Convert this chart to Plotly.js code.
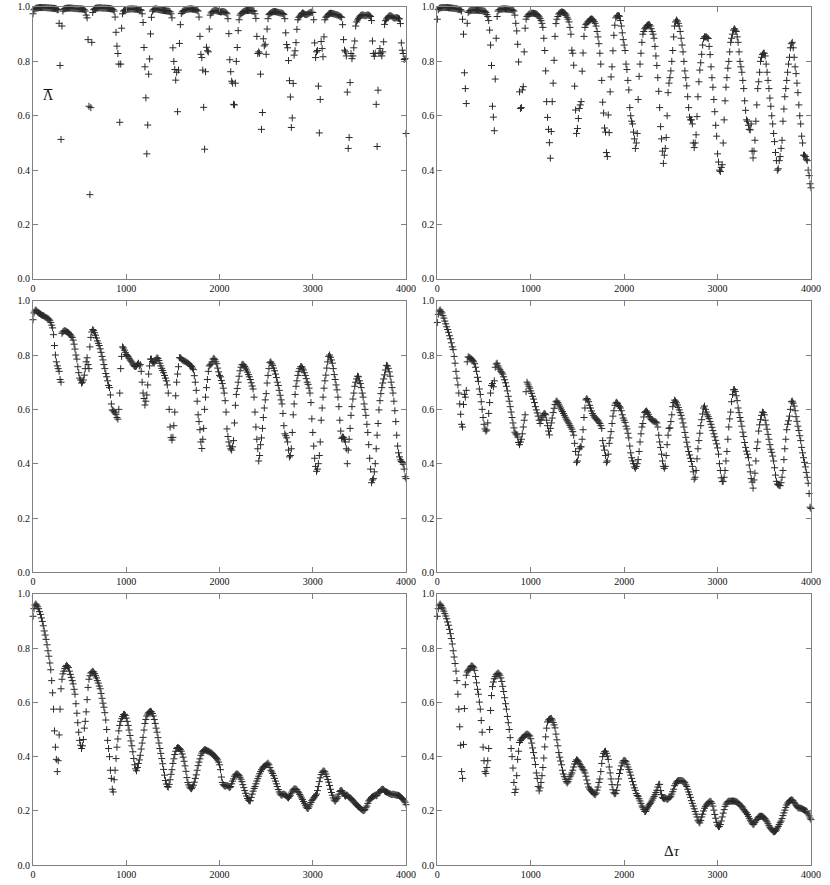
<!DOCTYPE html>
<html>
<head>
<meta charset="utf-8">
<script src="https://cdn.plot.ly/plotly-3.0.1.min.js"></script>
<style>
  html, body { margin: 0; padding: 0; background: #fff; }
  #plot-div { width: 830px; height: 885px; }
</style>
</head>
<body>
<div id="plot-div"></div>
<script>
  // delta tau is sampled every 10 units, 0..4000
  var step = 10;
  var xTickVals = [0, 1000, 2000, 3000, 4000];
  var yTickVals = [0, 0.2, 0.4, 0.6, 0.8, 1.0];
  var yTickText = ["0.0", "0.2", "0.4", "0.6", "0.8", "1.0"];

  // top-left
  var lambdaA = [
    0.975, 0.99, 0.993, 0.995, 0.996, 0.997, 0.997, 0.998, 0.998, 0.998,
    0.998, 0.998, 0.998, 0.998, 0.998, 0.997, 0.997, 0.997, 0.996, 0.996,
    0.996, 0.995, 0.995, 0.995, 0.994, 0.993, 0.99, 0.99, 0.94, 0.785,
    0.513, 0.93, 0.985, 0.992, 0.994, 0.995, 0.995, 0.996, 0.996, 0.996,
    0.996, 0.996, 0.995, 0.995, 0.995, 0.994, 0.994, 0.994, 0.994, 0.993,
    0.993, 0.993, 0.993, 0.992, 0.992, 0.99, 0.985, 0.97, 0.96, 0.88,
    0.635, 0.31, 0.63, 0.87, 0.98, 0.99, 0.993, 0.995, 0.996, 0.996,
    0.997, 0.997, 0.997, 0.997, 0.996, 0.996, 0.996, 0.996, 0.996, 0.995,
    0.995, 0.995, 0.994, 0.994, 0.993, 0.992, 0.99, 0.985, 0.963, 0.907,
    0.856, 0.829, 0.79, 0.576, 0.79, 0.922, 0.975, 0.985, 0.988, 0.99,
    0.99, 0.991, 0.992, 0.992, 0.993, 0.993, 0.993, 0.993, 0.993, 0.992,
    0.992, 0.992, 0.991, 0.991, 0.99, 0.99, 0.988, 0.975, 0.943, 0.851,
    0.78, 0.666, 0.46, 0.566, 0.753, 0.809, 0.901, 0.962, 0.985, 0.99,
    0.992, 0.993, 0.993, 0.992, 0.991, 0.99, 0.99, 0.989, 0.988, 0.988,
    0.987, 0.987, 0.986, 0.986, 0.985, 0.985, 0.984, 0.982, 0.975, 0.96,
    0.85, 0.80, 0.77, 0.731, 0.76, 0.615, 0.768, 0.866, 0.935, 0.976,
    0.982, 0.985, 0.987, 0.989, 0.99, 0.991, 0.992, 0.992, 0.993, 0.993,
    0.993, 0.992, 0.992, 0.991, 0.99, 0.99, 0.988, 0.985, 0.963, 0.892,
    0.826, 0.814, 0.768, 0.631, 0.477, 0.762, 0.852, 0.839, 0.835, 0.919,
    0.97, 0.978, 0.982, 0.984, 0.986, 0.987, 0.987, 0.986, 0.985, 0.984,
    0.983, 0.982, 0.982, 0.983, 0.983, 0.982, 0.981, 0.979, 0.975, 0.957,
    0.902, 0.806, 0.762, 0.727, 0.72, 0.642, 0.64, 0.72, 0.80, 0.851,
    0.913, 0.953, 0.97, 0.975, 0.978, 0.981, 0.983, 0.985, 0.986, 0.987,
    0.987, 0.987, 0.988, 0.988, 0.987, 0.987, 0.986, 0.985, 0.975, 0.958,
    0.892, 0.829, 0.835, 0.83, 0.753, 0.55, 0.612, 0.883, 0.857, 0.863,
    0.826, 0.919, 0.957, 0.972, 0.976, 0.978, 0.98, 0.982, 0.983, 0.983,
    0.983, 0.982, 0.981, 0.98, 0.979, 0.978, 0.978, 0.977, 0.976, 0.972,
    0.957, 0.905, 0.862, 0.85, 0.803, 0.729, 0.669, 0.557, 0.592, 0.719,
    0.823, 0.839, 0.869, 0.918, 0.953, 0.962, 0.966, 0.97, 0.975, 0.978,
    0.977, 0.974, 0.972, 0.972, 0.973, 0.975, 0.977, 0.979, 0.98, 0.981,
    0.98, 0.953, 0.868, 0.814, 0.835, 0.84, 0.709, 0.537, 0.66, 0.873,
    0.847, 0.817, 0.89, 0.953, 0.962, 0.966, 0.97, 0.974, 0.976, 0.977,
    0.977, 0.976, 0.975, 0.974, 0.973, 0.972, 0.971, 0.97, 0.968, 0.966,
    0.964, 0.962, 0.935, 0.88, 0.841, 0.835, 0.82, 0.687, 0.48, 0.52,
    0.722, 0.829, 0.81, 0.82, 0.85, 0.875, 0.93, 0.945, 0.952, 0.958,
    0.963, 0.967, 0.97, 0.971, 0.97, 0.969, 0.968, 0.968, 0.97, 0.971,
    0.97, 0.968, 0.965, 0.95, 0.875, 0.829, 0.819, 0.83, 0.642, 0.487,
    0.694, 0.83, 0.847, 0.83, 0.82, 0.835, 0.872, 0.936, 0.95, 0.956,
    0.96, 0.964, 0.967, 0.968, 0.967, 0.965, 0.962, 0.96, 0.959, 0.96,
    0.961, 0.96, 0.958, 0.956, 0.939, 0.868, 0.841, 0.829, 0.807, 0.81,
    0.535
  ];

  // top-right
  var lambdaB = [
    0.955, 0.99, 0.995, 0.997, 0.997, 0.998, 0.998, 0.998, 0.998, 0.998,
    0.998, 0.998, 0.997, 0.997, 0.997, 0.996, 0.996, 0.995, 0.995, 0.994,
    0.994, 0.993, 0.992, 0.991, 0.99, 0.99, 0.985, 0.955, 0.90, 0.758,
    0.70, 0.645, 0.94, 0.98, 0.985, 0.986, 0.987, 0.988, 0.988, 0.988,
    0.988, 0.988, 0.988, 0.988, 0.988, 0.987, 0.987, 0.987, 0.986, 0.986,
    0.985, 0.984, 0.98, 0.972, 0.965, 0.95, 0.915, 0.86, 0.785, 0.635,
    0.595, 0.545, 0.735, 0.885, 0.965, 0.985, 0.99, 0.991, 0.992, 0.992,
    0.993, 0.993, 0.993, 0.993, 0.992, 0.992, 0.992, 0.991, 0.991, 0.99,
    0.99, 0.988, 0.985, 0.97, 0.94, 0.912, 0.863, 0.798, 0.688, 0.627,
    0.63, 0.695, 0.707, 0.835, 0.922, 0.955, 0.965, 0.97, 0.973, 0.975,
    0.976, 0.977, 0.977, 0.977, 0.976, 0.975, 0.974, 0.972, 0.968, 0.964,
    0.958, 0.95, 0.94, 0.925, 0.885, 0.84, 0.765, 0.652, 0.594, 0.55,
    0.501, 0.444, 0.542, 0.652, 0.72, 0.804, 0.892, 0.939, 0.955, 0.965,
    0.974, 0.978, 0.98, 0.982, 0.981, 0.98, 0.978, 0.975, 0.97, 0.962,
    0.955, 0.945, 0.925, 0.90, 0.841, 0.83, 0.786, 0.709, 0.621, 0.535,
    0.553, 0.59, 0.627, 0.64, 0.652, 0.764, 0.831, 0.892, 0.925, 0.935,
    0.94, 0.945, 0.948, 0.952, 0.955, 0.956, 0.955, 0.952, 0.947, 0.94,
    0.93, 0.91, 0.89, 0.865, 0.83, 0.79, 0.73, 0.65, 0.61, 0.555,
    0.54, 0.465, 0.45, 0.603, 0.538, 0.688, 0.743, 0.78, 0.839, 0.896,
    0.933, 0.96, 0.966, 0.968, 0.968, 0.966, 0.95, 0.93, 0.905, 0.88,
    0.86, 0.84, 0.79, 0.77, 0.73, 0.695, 0.63, 0.60, 0.58, 0.57,
    0.54, 0.515, 0.48, 0.50, 0.535, 0.66, 0.745, 0.79, 0.83, 0.87,
    0.90, 0.91, 0.92, 0.925, 0.93, 0.933, 0.935, 0.935, 0.93, 0.92,
    0.91, 0.90, 0.885, 0.855, 0.82, 0.785, 0.74, 0.69, 0.63, 0.56,
    0.515, 0.47, 0.425, 0.455, 0.48, 0.52, 0.60, 0.685, 0.72, 0.74,
    0.765, 0.80, 0.84, 0.89, 0.93, 0.945, 0.952, 0.948, 0.94, 0.93,
    0.91, 0.885, 0.86, 0.835, 0.80, 0.765, 0.74, 0.71, 0.67, 0.63,
    0.595, 0.585, 0.585, 0.57, 0.50, 0.483, 0.50, 0.53, 0.597, 0.67,
    0.725, 0.768, 0.795, 0.826, 0.86, 0.884, 0.89, 0.89, 0.89, 0.887,
    0.884, 0.855, 0.825, 0.78, 0.74, 0.705, 0.66, 0.615, 0.565, 0.525,
    0.46, 0.43, 0.40, 0.395, 0.41, 0.42, 0.50, 0.585, 0.655, 0.705,
    0.74, 0.775, 0.80, 0.835, 0.87, 0.885, 0.90, 0.915, 0.92, 0.915,
    0.91, 0.89, 0.87, 0.835, 0.80, 0.78, 0.76, 0.73, 0.70, 0.655,
    0.62, 0.585, 0.58, 0.565, 0.55, 0.548, 0.57, 0.47, 0.445, 0.47,
    0.51, 0.58, 0.64, 0.70, 0.725, 0.76, 0.80, 0.815, 0.825, 0.83,
    0.83, 0.82, 0.79, 0.76, 0.73, 0.70, 0.665, 0.635, 0.60, 0.57,
    0.535, 0.505, 0.465, 0.435, 0.40, 0.405, 0.435, 0.45, 0.48, 0.51,
    0.58, 0.625, 0.67, 0.70, 0.73, 0.76, 0.79, 0.815, 0.85, 0.865,
    0.87, 0.85, 0.815, 0.78, 0.755, 0.72, 0.685, 0.64, 0.60, 0.57,
    0.525, 0.50, 0.455, 0.455, 0.45, 0.44, 0.435, 0.40, 0.38, 0.35,
    0.335
  ];

  // middle-left
  var lambdaC = [
    0.93, 0.955, 0.962, 0.966, 0.962, 0.958, 0.955, 0.953, 0.951, 0.948,
    0.946, 0.945, 0.943, 0.94, 0.938, 0.936, 0.934, 0.932, 0.928, 0.92,
    0.91, 0.90, 0.875, 0.835, 0.80, 0.775, 0.76, 0.75, 0.74, 0.71,
    0.70, 0.88, 0.885, 0.888, 0.89, 0.888, 0.886, 0.884, 0.882, 0.878,
    0.875, 0.87, 0.865, 0.855, 0.84, 0.822, 0.80, 0.785, 0.757, 0.735,
    0.715, 0.708, 0.697, 0.70, 0.708, 0.726, 0.75, 0.775, 0.79, 0.765,
    0.75, 0.83, 0.865, 0.885, 0.894, 0.89, 0.882, 0.873, 0.863, 0.852,
    0.843, 0.835, 0.823, 0.81, 0.795, 0.782, 0.765, 0.75, 0.732, 0.72,
    0.705, 0.688, 0.68, 0.653, 0.62, 0.598, 0.595, 0.591, 0.587, 0.582,
    0.57, 0.564, 0.60, 0.66, 0.75, 0.795, 0.83, 0.826, 0.818, 0.81,
    0.802, 0.798, 0.794, 0.788, 0.782, 0.778, 0.774, 0.767, 0.762, 0.758,
    0.758, 0.76, 0.766, 0.77, 0.76, 0.765, 0.74, 0.70, 0.66, 0.64,
    0.616, 0.63, 0.653, 0.69, 0.73, 0.76, 0.785, 0.785, 0.776, 0.772,
    0.77, 0.778, 0.785, 0.79, 0.787, 0.78, 0.77, 0.76, 0.751, 0.743,
    0.735, 0.725, 0.715, 0.705, 0.69, 0.66, 0.60, 0.535, 0.496, 0.487,
    0.497, 0.54, 0.59, 0.65, 0.70, 0.73, 0.757, 0.79, 0.79, 0.786,
    0.782, 0.78, 0.778, 0.777, 0.775, 0.773, 0.77, 0.768, 0.764, 0.761,
    0.758, 0.752, 0.746, 0.724, 0.70, 0.67, 0.63, 0.58, 0.555, 0.525,
    0.48, 0.456, 0.49, 0.53, 0.60, 0.645, 0.68, 0.71, 0.74, 0.76,
    0.764, 0.767, 0.775, 0.785, 0.788, 0.783, 0.775, 0.768, 0.752, 0.738,
    0.725, 0.72, 0.706, 0.695, 0.678, 0.66, 0.632, 0.59, 0.528, 0.50,
    0.48, 0.465, 0.455, 0.45, 0.462, 0.485, 0.55, 0.615, 0.655, 0.677,
    0.70, 0.722, 0.742, 0.755, 0.764, 0.766, 0.763, 0.758, 0.752, 0.745,
    0.737, 0.728, 0.72, 0.71, 0.698, 0.686, 0.675, 0.645, 0.59, 0.535,
    0.49, 0.455, 0.41, 0.43, 0.47, 0.495, 0.53, 0.57, 0.605, 0.635,
    0.658, 0.697, 0.725, 0.75, 0.772, 0.775, 0.768, 0.762, 0.752, 0.742,
    0.73, 0.717, 0.70, 0.688, 0.67, 0.652, 0.635, 0.62, 0.585, 0.54,
    0.51, 0.503, 0.495, 0.48, 0.45, 0.425, 0.43, 0.455, 0.515, 0.58,
    0.62, 0.655, 0.685, 0.705, 0.725, 0.74, 0.75, 0.757, 0.757, 0.752,
    0.745, 0.735, 0.725, 0.713, 0.70, 0.692, 0.678, 0.66, 0.625, 0.565,
    0.515, 0.465, 0.42, 0.39, 0.372, 0.38, 0.40, 0.43, 0.48, 0.56,
    0.605, 0.645, 0.678, 0.705, 0.726, 0.752, 0.775, 0.795, 0.80, 0.792,
    0.782, 0.77, 0.75, 0.728, 0.71, 0.69, 0.672, 0.645, 0.61, 0.56,
    0.52, 0.493, 0.498, 0.497, 0.49, 0.48, 0.455, 0.40, 0.45, 0.49,
    0.53, 0.578, 0.61, 0.638, 0.66, 0.685, 0.70, 0.712, 0.722, 0.72,
    0.705, 0.695, 0.68, 0.66, 0.645, 0.62, 0.60, 0.578, 0.545, 0.515,
    0.47, 0.42, 0.38, 0.33, 0.34, 0.345, 0.37, 0.40, 0.455, 0.505,
    0.548, 0.598, 0.632, 0.658, 0.68, 0.697, 0.712, 0.727, 0.745, 0.762,
    0.76, 0.751, 0.738, 0.722, 0.70, 0.68, 0.66, 0.63, 0.595, 0.555,
    0.505, 0.465, 0.44, 0.425, 0.414, 0.408, 0.405, 0.398, 0.38, 0.352,
    0.345
  ];

  // middle-right
  var lambdaD = [
    0.92, 0.95, 0.962, 0.966, 0.96, 0.955, 0.945, 0.936, 0.925, 0.915,
    0.904, 0.894, 0.884, 0.871, 0.86, 0.845, 0.83, 0.82, 0.795, 0.77,
    0.74, 0.715, 0.69, 0.66, 0.62, 0.582, 0.545, 0.535, 0.618, 0.655,
    0.645, 0.67, 0.775, 0.793, 0.792, 0.79, 0.787, 0.784, 0.78, 0.775,
    0.768, 0.755, 0.74, 0.718, 0.703, 0.675, 0.655, 0.628, 0.60, 0.57,
    0.545, 0.528, 0.52, 0.524, 0.55, 0.585, 0.625, 0.66, 0.688, 0.695,
    0.683, 0.705, 0.755, 0.767, 0.77, 0.76, 0.752, 0.746, 0.74, 0.735,
    0.73, 0.72, 0.709, 0.698, 0.685, 0.668, 0.648, 0.63, 0.61, 0.59,
    0.57, 0.55, 0.532, 0.516, 0.51, 0.506, 0.498, 0.478, 0.47, 0.48,
    0.49, 0.51, 0.535, 0.56, 0.58, 0.665, 0.70, 0.693, 0.685, 0.678,
    0.668, 0.659, 0.648, 0.638, 0.625, 0.61, 0.598, 0.587, 0.575, 0.56,
    0.548, 0.562, 0.569, 0.578, 0.583, 0.585, 0.58, 0.56, 0.54, 0.52,
    0.506, 0.53, 0.55, 0.568, 0.588, 0.604, 0.618, 0.628, 0.631, 0.625,
    0.619, 0.612, 0.605, 0.598, 0.592, 0.585, 0.578, 0.571, 0.564, 0.558,
    0.553, 0.547, 0.54, 0.534, 0.527, 0.518, 0.505, 0.475, 0.445, 0.405,
    0.41, 0.432, 0.455, 0.462, 0.462, 0.49, 0.525, 0.57, 0.605, 0.635,
    0.64, 0.635, 0.628, 0.615, 0.605, 0.594, 0.585, 0.578, 0.572, 0.568,
    0.565, 0.562, 0.558, 0.553, 0.548, 0.54, 0.53, 0.485, 0.465, 0.45,
    0.43, 0.405, 0.41, 0.435, 0.475, 0.495, 0.518, 0.548, 0.575, 0.595,
    0.615, 0.623, 0.626, 0.622, 0.615, 0.61, 0.605, 0.595, 0.58, 0.568,
    0.56, 0.552, 0.538, 0.528, 0.512, 0.495, 0.465, 0.44, 0.422, 0.41,
    0.40, 0.388, 0.383, 0.39, 0.40, 0.415, 0.445, 0.48, 0.51, 0.535,
    0.548, 0.572, 0.588, 0.592, 0.594, 0.589, 0.582, 0.574, 0.568, 0.563,
    0.56, 0.557, 0.556, 0.555, 0.553, 0.55, 0.535, 0.505, 0.48, 0.46,
    0.435, 0.41, 0.39, 0.383, 0.39, 0.43, 0.47, 0.505, 0.53, 0.532,
    0.555, 0.58, 0.61, 0.625, 0.634, 0.63, 0.624, 0.616, 0.607, 0.598,
    0.588, 0.578, 0.565, 0.55, 0.535, 0.515, 0.497, 0.479, 0.462, 0.445,
    0.432, 0.42, 0.408, 0.39, 0.37, 0.343, 0.35, 0.375, 0.418, 0.455,
    0.485, 0.512, 0.54, 0.562, 0.583, 0.605, 0.612, 0.60, 0.59, 0.58,
    0.573, 0.566, 0.555, 0.545, 0.534, 0.522, 0.51, 0.499, 0.486, 0.473,
    0.458, 0.435, 0.40, 0.375, 0.348, 0.334, 0.335, 0.35, 0.375, 0.41,
    0.445, 0.49, 0.535, 0.565, 0.59, 0.628, 0.655, 0.672, 0.673, 0.666,
    0.65, 0.632, 0.605, 0.588, 0.57, 0.556, 0.538, 0.516, 0.50, 0.478,
    0.46, 0.446, 0.435, 0.422, 0.395, 0.37, 0.345, 0.332, 0.31, 0.34,
    0.365, 0.41, 0.456, 0.48, 0.52, 0.543, 0.562, 0.578, 0.59, 0.588,
    0.58, 0.56, 0.543, 0.527, 0.508, 0.49, 0.47, 0.453, 0.442, 0.428,
    0.41, 0.385, 0.358, 0.335, 0.325, 0.322, 0.32, 0.319, 0.33, 0.35,
    0.375, 0.415, 0.455, 0.49, 0.525, 0.545, 0.558, 0.575, 0.60, 0.628,
    0.63, 0.623, 0.612, 0.595, 0.573, 0.556, 0.538, 0.522, 0.503, 0.485,
    0.46, 0.44, 0.422, 0.405, 0.388, 0.368, 0.35, 0.328, 0.29, 0.24,
    0.235
  ];

  // bottom-left
  var lambdaE = [
    0.917, 0.945, 0.958, 0.962, 0.958, 0.952, 0.945, 0.934, 0.924, 0.911,
    0.898, 0.882, 0.863, 0.848, 0.832, 0.812, 0.79, 0.77, 0.745, 0.72,
    0.68, 0.635, 0.575, 0.495, 0.435, 0.39, 0.345, 0.385, 0.48, 0.575,
    0.65, 0.685, 0.705, 0.715, 0.725, 0.732, 0.736, 0.733, 0.728, 0.715,
    0.703, 0.692, 0.68, 0.668, 0.648, 0.63, 0.595, 0.56, 0.525, 0.49,
    0.46, 0.442, 0.43, 0.44, 0.463, 0.505, 0.53, 0.565, 0.61, 0.655,
    0.685, 0.698, 0.708, 0.711, 0.714, 0.712, 0.706, 0.698, 0.69, 0.68,
    0.671, 0.66, 0.65, 0.633, 0.615, 0.597, 0.582, 0.562, 0.535, 0.50,
    0.46, 0.43, 0.40, 0.35, 0.32, 0.28, 0.27, 0.315, 0.35, 0.393,
    0.435, 0.465, 0.495, 0.515, 0.53, 0.54, 0.548, 0.555, 0.556, 0.552,
    0.542, 0.53, 0.515, 0.498, 0.478, 0.458, 0.44, 0.418, 0.393, 0.37,
    0.355, 0.348, 0.36, 0.375, 0.388, 0.405, 0.428, 0.45, 0.471, 0.498,
    0.522, 0.537, 0.55, 0.557, 0.562, 0.565, 0.567, 0.565, 0.559, 0.55,
    0.537, 0.522, 0.505, 0.49, 0.47, 0.45, 0.43, 0.412, 0.393, 0.374,
    0.353, 0.332, 0.312, 0.299, 0.29, 0.288, 0.298, 0.315, 0.335, 0.352,
    0.375, 0.392, 0.408, 0.42, 0.43, 0.434, 0.432, 0.43, 0.426, 0.42,
    0.41, 0.398, 0.383, 0.366, 0.346, 0.323, 0.305, 0.296, 0.288, 0.284,
    0.282, 0.288, 0.295, 0.306, 0.32, 0.333, 0.35, 0.367, 0.38, 0.392,
    0.405, 0.413, 0.419, 0.423, 0.426, 0.425, 0.423, 0.421, 0.42, 0.418,
    0.416, 0.414, 0.412, 0.408, 0.404, 0.40, 0.397, 0.393, 0.388, 0.38,
    0.37, 0.352, 0.325, 0.305, 0.297, 0.293, 0.291, 0.293, 0.294, 0.292,
    0.289, 0.286, 0.29, 0.30, 0.31, 0.318, 0.328, 0.333, 0.336, 0.336,
    0.334, 0.33, 0.324, 0.317, 0.308, 0.297, 0.286, 0.275, 0.265, 0.255,
    0.246, 0.24, 0.237, 0.238, 0.25, 0.262, 0.273, 0.283, 0.29, 0.30,
    0.31, 0.319, 0.328, 0.337, 0.345, 0.352, 0.358, 0.362, 0.364, 0.367,
    0.37, 0.373, 0.376, 0.37, 0.36, 0.35, 0.344, 0.338, 0.33, 0.32,
    0.31, 0.30, 0.29, 0.279, 0.27, 0.263, 0.259, 0.258, 0.262, 0.262,
    0.26, 0.258, 0.254, 0.25, 0.248, 0.253, 0.258, 0.266, 0.273, 0.278,
    0.281, 0.281, 0.28, 0.278, 0.272, 0.267, 0.261, 0.255, 0.248, 0.242,
    0.235, 0.228, 0.221, 0.214, 0.21, 0.209, 0.215, 0.223, 0.231, 0.238,
    0.243, 0.248, 0.252, 0.257, 0.262, 0.275, 0.29, 0.308, 0.322, 0.334,
    0.342, 0.347, 0.347, 0.344, 0.336, 0.327, 0.316, 0.306, 0.294, 0.28,
    0.268, 0.258, 0.248, 0.24, 0.236, 0.241, 0.246, 0.252, 0.262, 0.272,
    0.275, 0.275, 0.27, 0.265, 0.258, 0.254, 0.258, 0.258, 0.254, 0.25,
    0.248, 0.246, 0.242, 0.238, 0.233, 0.23, 0.226, 0.223, 0.219, 0.216,
    0.213, 0.21, 0.206, 0.204, 0.201, 0.202, 0.205, 0.212, 0.218, 0.228,
    0.237, 0.241, 0.245, 0.25, 0.252, 0.254, 0.256, 0.258, 0.256, 0.258,
    0.265, 0.269, 0.272, 0.276, 0.279, 0.28, 0.279, 0.274, 0.271, 0.27,
    0.268, 0.266, 0.264, 0.263, 0.261, 0.26, 0.262, 0.261, 0.26, 0.259,
    0.258, 0.258, 0.257, 0.255, 0.252, 0.249, 0.246, 0.242, 0.237, 0.232,
    0.223
  ];

  // bottom-right
  var lambdaF = [
    0.917, 0.945, 0.958, 0.962, 0.957, 0.95, 0.944, 0.936, 0.927, 0.918,
    0.908, 0.896, 0.884, 0.869, 0.853, 0.835, 0.815, 0.79, 0.767, 0.743,
    0.715, 0.68, 0.63, 0.575, 0.51, 0.442, 0.345, 0.32, 0.445, 0.577,
    0.665, 0.70, 0.712, 0.717, 0.722, 0.726, 0.732, 0.735, 0.732, 0.727,
    0.718, 0.695, 0.672, 0.648, 0.63, 0.601, 0.575, 0.533, 0.49, 0.435,
    0.385, 0.345, 0.338, 0.36, 0.385, 0.43, 0.50, 0.57, 0.625, 0.658,
    0.675, 0.687, 0.695, 0.702, 0.705, 0.708, 0.705, 0.70, 0.69, 0.677,
    0.659, 0.64, 0.617, 0.595, 0.575, 0.548, 0.525, 0.50, 0.47, 0.43,
    0.40, 0.358, 0.305, 0.268, 0.28, 0.33, 0.39, 0.42, 0.452, 0.46,
    0.465, 0.469, 0.471, 0.475, 0.479, 0.482, 0.483, 0.482, 0.479, 0.476,
    0.466, 0.45, 0.432, 0.415, 0.395, 0.371, 0.34, 0.32, 0.29, 0.274,
    0.285, 0.305, 0.33, 0.36, 0.395, 0.436, 0.473, 0.505, 0.528, 0.535,
    0.538, 0.54, 0.541, 0.535, 0.526, 0.517, 0.506, 0.483, 0.462, 0.44,
    0.415, 0.398, 0.384, 0.37, 0.35, 0.336, 0.326, 0.317, 0.308, 0.303,
    0.308, 0.317, 0.326, 0.333, 0.34, 0.35, 0.362, 0.373, 0.382, 0.388,
    0.387, 0.383, 0.376, 0.37, 0.364, 0.359, 0.353, 0.348, 0.34, 0.328,
    0.314, 0.30, 0.288, 0.281, 0.277, 0.273, 0.27, 0.266, 0.262, 0.26,
    0.266, 0.277, 0.288, 0.305, 0.318, 0.345, 0.375, 0.40, 0.412, 0.418,
    0.42, 0.412, 0.402, 0.39, 0.362, 0.34, 0.318, 0.297, 0.278, 0.267,
    0.263, 0.265, 0.276, 0.296, 0.318, 0.338, 0.352, 0.366, 0.377, 0.384,
    0.386, 0.385, 0.381, 0.372, 0.362, 0.353, 0.343, 0.332, 0.32, 0.308,
    0.296, 0.285, 0.276, 0.264, 0.257, 0.254, 0.245, 0.237, 0.228, 0.218,
    0.212, 0.205, 0.198, 0.198, 0.204, 0.211, 0.218, 0.223, 0.228, 0.233,
    0.24, 0.247, 0.253, 0.26, 0.268, 0.276, 0.288, 0.297, 0.298, 0.275,
    0.26, 0.25, 0.246, 0.245, 0.248, 0.246, 0.242, 0.245, 0.248, 0.251,
    0.254, 0.262, 0.271, 0.28, 0.293, 0.30, 0.306, 0.31, 0.312, 0.312,
    0.312, 0.312, 0.311, 0.31, 0.307, 0.304, 0.296, 0.29, 0.28, 0.27,
    0.26, 0.25, 0.238, 0.228, 0.218, 0.208, 0.198, 0.188, 0.178, 0.166,
    0.16, 0.156, 0.165, 0.178, 0.188, 0.20, 0.21, 0.217, 0.222, 0.226,
    0.23, 0.233, 0.236, 0.234, 0.228, 0.218, 0.203, 0.187, 0.173, 0.158,
    0.148, 0.142, 0.143, 0.15, 0.163, 0.178, 0.192, 0.205, 0.217, 0.225,
    0.23, 0.234, 0.236, 0.236, 0.236, 0.236, 0.237, 0.236, 0.236, 0.235,
    0.234, 0.232, 0.229, 0.226, 0.222, 0.219, 0.216, 0.211, 0.205, 0.20,
    0.196, 0.193, 0.187, 0.18, 0.173, 0.166, 0.16, 0.155, 0.15, 0.152,
    0.158, 0.164, 0.169, 0.174, 0.178, 0.18, 0.18, 0.181, 0.179, 0.177,
    0.174, 0.171, 0.166, 0.16, 0.153, 0.146, 0.14, 0.135, 0.131, 0.127,
    0.123, 0.124, 0.126, 0.13, 0.137, 0.143, 0.15, 0.157, 0.163, 0.172,
    0.183, 0.193, 0.203, 0.213, 0.222, 0.229, 0.233, 0.237, 0.239, 0.241,
    0.24, 0.237, 0.231, 0.226, 0.221, 0.216, 0.212, 0.211, 0.211, 0.21,
    0.209, 0.207, 0.205, 0.203, 0.201, 0.20, 0.196, 0.189, 0.182, 0.174,
    0.168
  ];

  var series = [lambdaA, lambdaB, lambdaC, lambdaD, lambdaE, lambdaF];

  // panel boxes in paper fractions (830 x 885 page, no margins)
  var colDomains = [[0.0398, 0.4892], [0.5269, 0.9771]];
  var rowDomains = [[0.6848, 0.9921], [0.3533, 0.6602], [0.0223, 0.3291]];

  var serif = "Liberation Serif";
  var tickFont = { family: serif, size: 10, color: "#111" };

  function makeAxis(extra) {
    var ax = {
      showline: true,
      linecolor: "#808080",
      linewidth: 1,
      mirror: "ticks",
      ticks: "inside",
      ticklen: 5,
      tickwidth: 1,
      tickcolor: "#808080",
      showgrid: false,
      zeroline: false,
      tickfont: tickFont,
      fixedrange: true
    };
    for (var k in extra) ax[k] = extra[k];
    return ax;
  }

  var data = [];
  var layout = {
    width: 830,
    height: 885,
    margin: { l: 0, r: 0, t: 0, b: 0 },
    paper_bgcolor: "#fff",
    plot_bgcolor: "#fff",
    font: { family: serif },
    showlegend: false,
    annotations: [],
    shapes: []
  };

  series.forEach(function (ys, i) {
    var n = i + 1;
    var suffix = n === 1 ? "" : String(n);
    var col = i % 2;
    var row = Math.floor(i / 2);
    var xs = ys.map(function (_, j) { return j * step; });

    data.push({
      x: xs,
      y: ys,
      xaxis: "x" + suffix,
      yaxis: "y" + suffix,
      type: "scatter",
      mode: "markers",
      cliponaxis: false,
      hoverinfo: "skip",
      marker: {
        symbol: "cross-thin-open",
        size: 5,
        color: "#2a2a2a",
        line: { color: "#2a2a2a", width: 1 }
      }
    });

    layout["xaxis" + suffix] = makeAxis({
      domain: colDomains[col],
      anchor: "y" + suffix,
      range: [0, 4000],
      tickvals: xTickVals,
      ticktext: xTickVals.map(String)
    });
    layout["yaxis" + suffix] = makeAxis({
      domain: rowDomains[row],
      anchor: "x" + suffix,
      range: [0, 1],
      tickvals: yTickVals,
      ticktext: yTickText
    });
  });

  // Lambda with a bar over it
  layout.annotations.push({
    xref: "paper", yref: "paper",
    x: 48 / 830, y: 1 - 96 / 885,
    xanchor: "center", yanchor: "middle",
    text: "\u039B",
    showarrow: false,
    font: { family: serif, size: 14, color: "#111" }
  });
  layout.shapes.push({
    type: "line", xref: "paper", yref: "paper",
    x0: 43.5 / 830, x1: 52.5 / 830,
    y0: 1 - 89.5 / 885, y1: 1 - 89.5 / 885,
    line: { color: "#111", width: 1 }
  });
  layout.annotations.push({
    xref: "paper", yref: "paper",
    x: 672 / 830, y: 1 - 851 / 885,
    xanchor: "center", yanchor: "middle",
    text: "\u0394<i>\u03C4</i>",
    showarrow: false,
    font: { family: serif, size: 15, color: "#111" }
  });

  Plotly.newPlot("plot-div", data, layout, { staticPlot: true, displayModeBar: false });
</script>
</body>
</html>
